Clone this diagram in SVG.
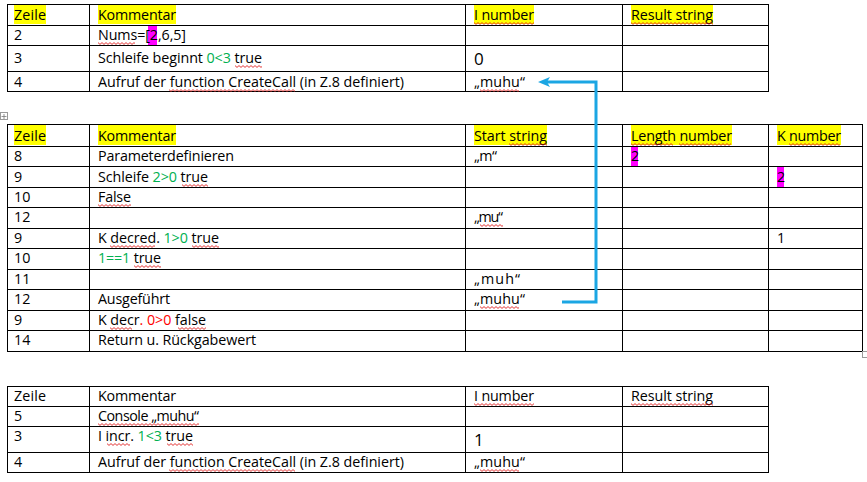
<svg xmlns="http://www.w3.org/2000/svg" width="867" height="482" viewBox="0 0 867 482">
<style>
.grid{stroke:#000;stroke-width:1;fill:none;shape-rendering:crispEdges}
text{font-family:"Open Sans","Noto Sans","Liberation Sans",sans-serif;font-size:14.3px;fill:#000}
.big{font-size:17px}
.g{fill:#00B050}
.r{fill:#FF0000}
.hy{fill:#FFFF00}
.hm{fill:#FF00FF}
.sq{fill:url(#wave)}
.conn{fill:none;stroke:#1BA6E3;stroke-width:3;stroke-linejoin:miter}
.ui{fill:#fff;stroke:#9a9a9a;stroke-width:1}
</style>
<defs>
<pattern id="wave" patternUnits="userSpaceOnUse" width="4" height="3">
<polyline points="0,0.6 2,2.4 4,0.6" fill="none" stroke="#E02020" stroke-width="0.9"/>
</pattern>
<marker id="arr" viewBox="0 0 12 10" refX="3" refY="5" markerWidth="12" markerHeight="10" markerUnits="userSpaceOnUse" orient="auto">
<path d="M0,0 L12,5 L0,10 L3,5 z" fill="#1BA6E3"/>
</marker>
</defs>
<rect width="867" height="482" fill="#fff"/>

<g id="table1">
<rect class="hy" x="14" y="5" width="32" height="19"/>
<rect class="hy" x="98" y="5" width="78" height="19"/>
<rect class="hy" x="474" y="5" width="60" height="19"/>
<rect class="hy" x="631" y="5" width="82" height="19"/>
<rect class="hm" x="148" y="26" width="9" height="19"/>
<path class="grid" d="M7.5,4.5H768.5V91.5H7.5Z M7.5,25.5H768.5 M7.5,45.5H768.5 M7.5,71.5H768.5 M89.5,4.5V91.5 M465.5,4.5V91.5 M622.5,4.5V91.5"/>
<text x="14" y="20" textLength="32">Zeile</text>
<text x="98" y="20" textLength="78">Kommentar</text>
<text x="474" y="20" textLength="60">I number</text>
<text x="631" y="20" textLength="82">Result string</text>
<text x="14" y="40">2</text>
<text x="98" y="40" textLength="88">Nums=[2,6,5]</text>
<text x="14" y="63">3</text>
<text x="98" y="63" textLength="164">Schleife beginnt <tspan class="g">0&lt;3</tspan> true</text>
<text class="big" x="474" y="65">0</text>
<text x="14" y="87">4</text>
<text x="98" y="87" textLength="306">Aufruf der function CreateCall (in Z.8 definiert)</text>
<text x="474" y="87" textLength="51">„muhu“</text>
<rect class="sq" transform="translate(474,22)" width="60" height="3"/>
<rect class="sq" transform="translate(631,22)" width="82" height="3"/>
<rect class="sq" transform="translate(98,42)" width="37" height="3"/>
<rect class="sq" transform="translate(235,65)" width="27" height="3"/>
<rect class="sq" transform="translate(169,89)" width="126" height="3"/>
<rect class="sq" transform="translate(480,89)" width="39" height="3"/>
</g>

<g id="table2">
<rect class="ui" x="0.5" y="112.5" width="7" height="7"/>
<path d="M4,114V119M1.5,116.5H6.5" stroke="#777" stroke-width="0.8" fill="none"/>
<rect class="hy" x="14" y="125" width="32" height="20"/>
<rect class="hy" x="98" y="125" width="78" height="20"/>
<rect class="hy" x="474" y="125" width="73" height="20"/>
<rect class="hy" x="631" y="125" width="101" height="20"/>
<rect class="hy" x="777" y="125" width="64" height="20"/>
<rect class="hm" x="631" y="147" width="7" height="19"/>
<rect class="hm" x="777" y="167" width="7" height="20"/>
<path class="grid" d="M7.5,124.5H862.5V351.5H7.5Z M7.5,146.5H862.5 M7.5,166.5H862.5 M7.5,187.5H862.5 M7.5,207.5H862.5 M7.5,228.5H862.5 M7.5,248.5H862.5 M7.5,269.5H862.5 M7.5,289.5H862.5 M7.5,310.5H862.5 M7.5,330.5H862.5 M89.5,124.5V351.5 M465.5,124.5V351.5 M622.5,124.5V351.5 M768.5,124.5V351.5"/>
<rect class="ui" x="862.5" y="351.5" width="5" height="6"/>
<text x="14" y="141" textLength="32">Zeile</text>
<text x="98" y="141" textLength="78">Kommentar</text>
<text x="474" y="141" textLength="73">Start string</text>
<text x="631" y="141" textLength="101">Length number</text>
<text x="777" y="141" textLength="64">K number</text>
<text x="14" y="161">8</text>
<text x="98" y="161" textLength="136">Parameterdefinieren</text>
<text x="474" y="161" textLength="23">„m“</text>
<text x="631" y="161">2</text>
<text x="14" y="182">9</text>
<text x="98" y="182" textLength="110">Schleife <tspan class="g">2&gt;0</tspan> true</text>
<text x="777" y="182">2</text>
<text x="14" y="202">10</text>
<text x="98" y="202" textLength="33">False</text>
<text x="14" y="222">12</text>
<text x="474" y="222" textLength="29">„mu“</text>
<text x="14" y="243">9</text>
<text x="98" y="243" textLength="121">K decred. <tspan class="g">1&gt;0</tspan> true</text>
<text x="777" y="243">1</text>
<text x="14" y="263">10</text>
<text x="98" y="263" textLength="63"><tspan class="g">1==1</tspan> true</text>
<text x="14" y="284">11</text>
<text x="474" y="284" textLength="46">„muh“</text>
<text x="14" y="304">12</text>
<text x="98" y="304" textLength="72">Ausgeführt</text>
<text x="474" y="304" textLength="51">„muhu“</text>
<text x="14" y="325">9</text>
<text x="98" y="325" textLength="108">K decr<tspan class="r">. 0&gt;0</tspan> false</text>
<text x="14" y="345">14</text>
<text x="98" y="345" textLength="158">Return u. Rückgabewert</text>
<rect class="sq" transform="translate(509,143)" width="38" height="3"/>
<rect class="sq" transform="translate(631,143)" width="42" height="3"/>
<rect class="sq" transform="translate(679,143)" width="52" height="3"/>
<rect class="sq" transform="translate(789,143)" width="51" height="3"/>
<rect class="sq" transform="translate(182,184)" width="26" height="3"/>
<rect class="sq" transform="translate(98,204)" width="33" height="3"/>
<rect class="sq" transform="translate(480,224)" width="23" height="3"/>
<rect class="sq" transform="translate(110,245)" width="45" height="3"/>
<rect class="sq" transform="translate(192,245)" width="27" height="3"/>
<rect class="sq" transform="translate(134,265)" width="27" height="3"/>
<rect class="sq" transform="translate(480,306)" width="39" height="3"/>
<rect class="sq" transform="translate(110,327)" width="22" height="3"/>
<rect class="sq" transform="translate(178,327)" width="28" height="3"/>
</g>

<g id="table3">
<path class="grid" d="M7.5,386.5H768.5V472.5H7.5Z M7.5,406.5H768.5 M7.5,426.5H768.5 M7.5,452.5H768.5 M89.5,386.5V472.5 M465.5,386.5V472.5 M622.5,386.5V472.5"/>
<text x="14" y="401" textLength="32">Zeile</text>
<text x="98" y="401" textLength="78">Kommentar</text>
<text x="474" y="401" textLength="60">I number</text>
<text x="631" y="401" textLength="82">Result string</text>
<text x="14" y="421">5</text>
<text x="98" y="421" textLength="101">Console „muhu“</text>
<text x="14" y="441">3</text>
<text x="98" y="441" textLength="95">I incr. <tspan class="g">1&lt;3</tspan> true</text>
<text class="big" x="474" y="446">1</text>
<text x="14" y="467">4</text>
<text x="98" y="467" textLength="306">Aufruf der function CreateCall (in Z.8 definiert)</text>
<text x="474" y="467" textLength="51">„muhu“</text>
<rect class="sq" transform="translate(474,403)" width="60" height="3"/>
<rect class="sq" transform="translate(631,403)" width="82" height="3"/>
<rect class="sq" transform="translate(98,423)" width="101" height="3"/>
<rect class="sq" transform="translate(107,443)" width="23" height="3"/>
<rect class="sq" transform="translate(167,443)" width="26" height="3"/>
<rect class="sq" transform="translate(169,469)" width="126" height="3"/>
<rect class="sq" transform="translate(480,469)" width="39" height="3"/>
</g>

<g id="connectors">
<path class="conn" d="M562,302 H596 V82 H547" marker-end="url(#arr)"/>
</g>
</svg>
